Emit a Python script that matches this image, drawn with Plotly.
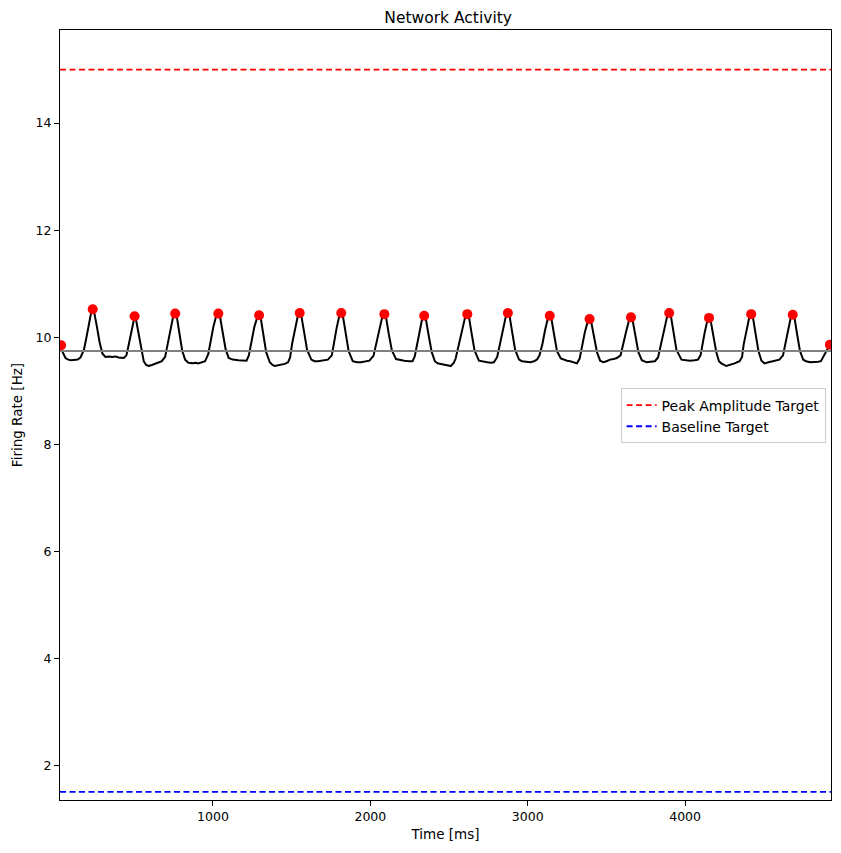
import plotly.graph_objects as go

# ---- data ----
time_ms = [
    35, 45, 63, 80, 100, 120, 140, 158,
    180, 195, 211, 226, 236, 246, 261, 280, 298, 317, 340, 360, 380, 400, 433, 450,
    462, 477, 492, 502, 512, 527, 545, 560, 575, 591, 612, 633, 655, 675, 696,
    712, 728, 746, 760, 772, 788, 805, 823, 844, 870, 890, 907, 930, 950, 970,
    985, 1003, 1020, 1034, 1046, 1062, 1080, 1100, 1125, 1161, 1190, 1213, 1228,
    1244, 1262, 1280, 1293, 1305, 1320, 1338, 1361, 1378, 1393, 1415, 1435, 1456, 1477, 1490,
    1503, 1520, 1538, 1551, 1563, 1580, 1598, 1625, 1645, 1667, 1700, 1730, 1755,
    1768, 1785, 1802, 1815, 1827, 1843, 1862, 1888, 1915, 1941, 1970, 1994, 2020,
    2040, 2058, 2075, 2089, 2101, 2117, 2136, 2163, 2190, 2215, 2245, 2268, 2282,
    2296, 2312, 2329, 2342, 2354, 2370, 2390, 2410, 2427, 2448, 2470, 2495, 2511, 2530, 2542,
    2565, 2584, 2602, 2616, 2628, 2644, 2662, 2690, 2715, 2743, 2765, 2785, 2806,
    2826, 2843, 2861, 2874, 2886, 2902, 2920, 2945, 2964, 2990, 3017, 3040, 3059, 3075,
    3094, 3110, 3127, 3140, 3152, 3168, 3186, 3210, 3228, 3250, 3270, 3295, 3313, 3330,
    3345, 3362, 3380, 3393, 3405, 3421, 3440, 3460, 3481, 3500, 3524, 3545, 3566, 3590,
    3608, 3625, 3643, 3656, 3668, 3684, 3703, 3725, 3755, 3780, 3808, 3828,
    3850, 3868, 3886, 3899, 3911, 3927, 3945, 3977, 4000, 4030, 4060, 4082, 4098,
    4108, 4124, 4140, 4152, 4164, 4180, 4198, 4215, 4230, 4262, 4290, 4314, 4346, 4362,
    4372, 4390, 4407, 4420, 4432, 4448, 4466, 4485, 4504, 4530, 4557, 4580, 4599, 4622,
    4636, 4653, 4671, 4684, 4696, 4712, 4730, 4750, 4768, 4795, 4821, 4845, 4863, 4880, 4898, 4920,
]
firing_rate = [
    9.85, 9.72, 9.61, 9.58, 9.57, 9.58, 9.58, 9.62,
    9.76, 9.98, 10.24, 10.46, 10.52, 10.45, 10.22, 9.90, 9.69, 9.63, 9.64, 9.63, 9.64, 9.62, 9.61, 9.66,
    9.82, 10.05, 10.30, 10.39, 10.31, 10.05, 9.75, 9.55, 9.48, 9.46, 9.48, 9.50, 9.52, 9.55, 9.63,
    9.88, 10.15, 10.37, 10.44, 10.35, 10.05, 9.74, 9.58, 9.52, 9.51, 9.52, 9.51, 9.53, 9.55, 9.68,
    9.95, 10.20, 10.39, 10.44, 10.36, 10.08, 9.78, 9.61, 9.58, 9.57, 9.56, 9.56, 9.66,
    9.90, 10.18, 10.36, 10.41, 10.33, 10.05, 9.72, 9.53, 9.48, 9.46, 9.47, 9.48, 9.50, 9.53, 9.62,
    9.88, 10.15, 10.38, 10.45, 10.37, 10.08, 9.76, 9.58, 9.55, 9.55, 9.56, 9.58, 9.66,
    9.90, 10.16, 10.39, 10.45, 10.37, 10.07, 9.74, 9.55, 9.53, 9.53, 9.55, 9.56, 9.65,
    9.90, 10.15, 10.37, 10.43, 10.35, 10.06, 9.76, 9.59, 9.57, 9.56, 9.55, 9.55, 9.64,
    9.86, 10.12, 10.34, 10.40, 10.32, 10.04, 9.72, 9.55, 9.51, 9.50, 9.48, 9.47, 9.46, 9.52, 9.60,
    9.88, 10.15, 10.37, 10.43, 10.35, 10.06, 9.75, 9.56, 9.54, 9.53, 9.52, 9.53, 9.63,
    9.90, 10.16, 10.39, 10.45, 10.37, 10.08, 9.76, 9.58, 9.55, 9.54, 9.53, 9.55, 9.58, 9.66,
    9.88, 10.13, 10.34, 10.40, 10.32, 10.04, 9.74, 9.60, 9.58, 9.56, 9.55, 9.53, 9.51, 9.60,
    9.84, 10.08, 10.28, 10.34, 10.26, 9.99, 9.72, 9.56, 9.53, 9.55, 9.58, 9.59, 9.61, 9.66,
    9.86, 10.10, 10.31, 10.37, 10.29, 10.02, 9.72, 9.57, 9.53, 9.54, 9.55, 9.62,
    9.88, 10.15, 10.39, 10.45, 10.37, 10.08, 9.76, 9.58, 9.57, 9.56, 9.57, 9.58, 9.66,
    9.84, 10.08, 10.29, 10.36, 10.28, 10.00, 9.72, 9.55, 9.51, 9.46, 9.48, 9.51, 9.55, 9.63,
    9.86, 10.13, 10.36, 10.43, 10.35, 10.06, 9.74, 9.56, 9.51, 9.53, 9.55, 9.56, 9.58, 9.66,
    9.88, 10.14, 10.36, 10.42, 10.34, 10.05, 9.74, 9.58, 9.55, 9.53, 9.53, 9.54, 9.55, 9.64, 9.76, 9.86,
]

peak_times = [35, 236, 502, 760, 1034, 1293, 1551, 1815, 2089, 2342, 2616, 2874,
              3140, 3393, 3656, 3899, 4152, 4420, 4684, 4920]
peak_values = [9.85, 10.52, 10.39, 10.44, 10.44, 10.41, 10.45, 10.45, 10.43, 10.40,
               10.43, 10.45, 10.40, 10.34, 10.37, 10.45, 10.36, 10.43, 10.42, 9.86]

mean_rate = 9.74
peak_target = 15.0
baseline_target = 1.5

x_range = [28, 4927]
y_range = [1.35, 15.74]
x_ticks = [1000, 2000, 3000, 4000]
y_ticks = [2, 4, 6, 8, 10, 12, 14]

FONT = "DejaVu Sans"

fig = go.Figure()

fig.add_trace(go.Scatter(
    x=time_ms, y=firing_rate, mode="lines",
    line=dict(color="black", width=2), showlegend=False, hoverinfo="skip",
))
fig.add_trace(go.Scatter(
    x=x_range, y=[mean_rate, mean_rate], mode="lines",
    line=dict(color="gray", width=2), showlegend=False,
))
fig.add_trace(go.Scatter(
    x=peak_times, y=peak_values, mode="markers",
    marker=dict(color="red", size=10), showlegend=False, cliponaxis=True,
))
fig.add_trace(go.Scatter(
    x=x_range, y=[peak_target, peak_target], mode="lines",
    line=dict(color="red", width=1.8, dash="6px,3.5px"),
    name="Peak Amplitude Target",
))
fig.add_trace(go.Scatter(
    x=x_range, y=[baseline_target, baseline_target], mode="lines",
    line=dict(color="blue", width=1.8, dash="6px,3.5px"),
    name="Baseline Target",
))

axis_common = dict(
    showline=True, linecolor="black", linewidth=1.2, mirror=True,
    ticks="outside", ticklen=5, tickwidth=1, tickcolor="black",
    showgrid=False, zeroline=False,
    tickfont=dict(family=FONT, size=12.5, color="black"),
)

# page places the figure 8px in from the top-left corner
fig.update_layout(
    width=833, height=845,
    margin=dict(l=50, r=9, t=22, b=53),
    paper_bgcolor="white", plot_bgcolor="white",
    font=dict(family=FONT, size=13, color="black"),
    title=dict(text="Network Activity", x=0.5284, xanchor="center",
               y=0.989, yanchor="middle", font=dict(family=FONT, size=15.5)),
    legend=dict(x=0.993, y=0.5345, xanchor="right", yanchor="top",
                bgcolor="rgba(255,255,255,0.8)", bordercolor="#cccccc", borderwidth=1,
                font=dict(family=FONT, size=14), tracegroupgap=0),
    xaxis=dict(range=x_range, tickvals=x_ticks,
               title=dict(text="Time [ms]", standoff=6, font=dict(family=FONT, size=13.5)),
               **axis_common),
    yaxis=dict(range=y_range, tickvals=y_ticks,
               title=dict(text="Firing Rate [Hz]", standoff=9, font=dict(family=FONT, size=13.5)),
               **axis_common),
)

fig.write_html("out.html")
